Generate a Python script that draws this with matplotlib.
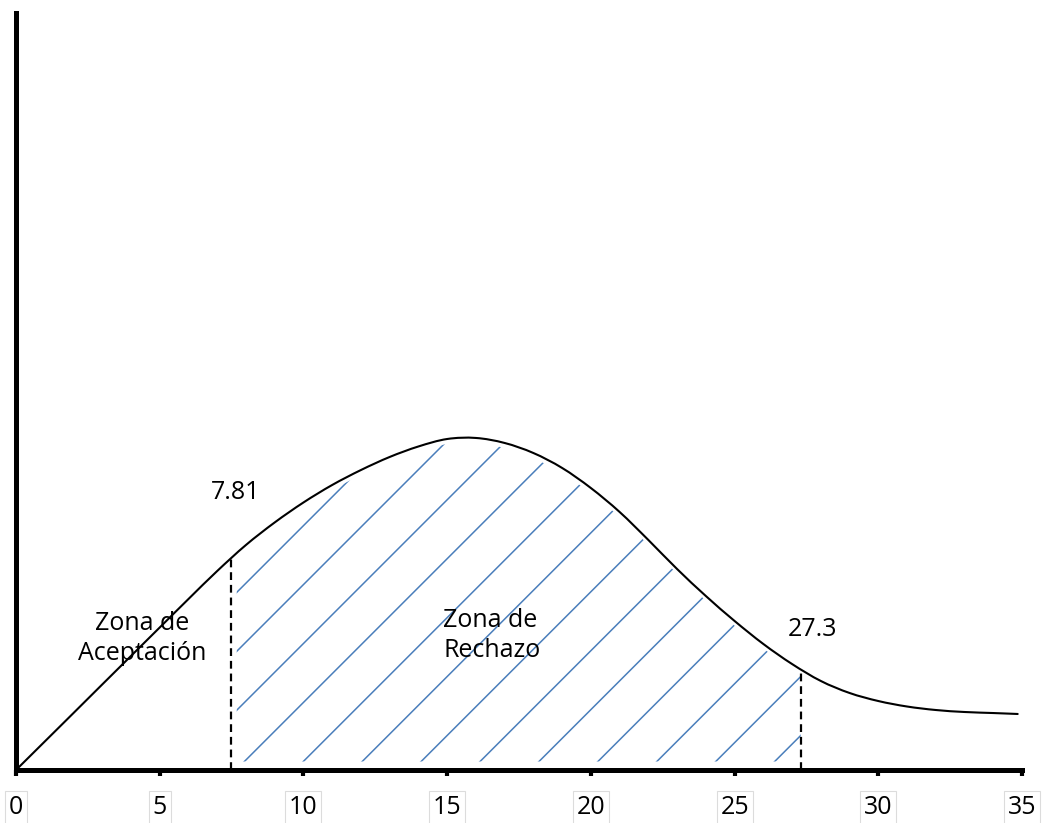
import numpy as np
import matplotlib
matplotlib.use("Agg")
import matplotlib.pyplot as plt
from matplotlib.patches import Polygon, PathPatch
from matplotlib.path import Path

# ---- data ----
curve_x = [0, 1, 2, 3, 4, 5, 6, 7, 8, 9, 10, 11, 12, 13, 14, 15, 16, 17, 18,
           19, 20, 21, 22, 23, 24, 25, 26, 27, 28, 29, 30, 31, 32, 33, 34, 34.85]
curve_y = [0.0, 0.00301, 0.00602, 0.00904, 0.01205, 0.01506, 0.01807, 0.02103,
           0.02378, 0.02616, 0.02827, 0.03012, 0.03170, 0.03308, 0.03419, 0.03498,
           0.03509, 0.03456, 0.03350, 0.03192, 0.02980, 0.02727, 0.02431, 0.02124,
           0.01839, 0.01575, 0.01332, 0.01120, 0.00941, 0.00814, 0.00729, 0.00671,
           0.00634, 0.00613, 0.00602, 0.00592]
crit_pos = [7.48, 27.3]
crit_labels = ["7.81", "27.3"]
xticks = [0, 5, 10, 15, 20, 25, 30, 35]
xtick_labels = ["0", "5", "10", "15", "20", "25", "30", "35"]
zone_labels = ["Zona de\nAceptación", "Zona de\nRechazo"]

FONT = "Open Sans"
W, H = 1049, 823
fig = plt.figure(figsize=(W / 100, H / 100), dpi=100)
ax = fig.add_axes([16 / W, 53 / H, 1006 / W, 757 / H])
ax.set_xlim(0, 35)
ax.set_ylim(0, 0.08)

# smooth curve through the points (Catmull-Rom rendered as cubic Beziers)
P = np.column_stack([curve_x, curve_y])
Pext = np.vstack([P[0], P, P[-1]])
verts = [tuple(P[0])]
codes = [Path.MOVETO]
for i in range(1, len(Pext) - 2):
    p0, p1, p2, p3 = Pext[i - 1], Pext[i], Pext[i + 1], Pext[i + 2]
    c1 = p1 + (p2 - p0) / 6.0
    c2 = p2 - (p3 - p1) / 6.0
    verts += [tuple(c1), tuple(c2), tuple(p2)]
    codes += [Path.CURVE4] * 3
ax.add_patch(PathPatch(Path(verts, codes), fill=False, edgecolor="black",
                       lw=1.5, capstyle="round", zorder=3))

# dashed critical lines
for cx in crit_pos:
    top = np.interp(cx, curve_x, curve_y)
    ax.plot([cx, cx], [0, top], color="black", lw=1.6,
            linestyle=(0, (3.5, 2.2)), zorder=2)

# hatch region (clip path)
xs = np.linspace(crit_pos[0] + 0.2, crit_pos[1], 200)
top = np.interp(xs, curve_x, curve_y) - 0.0005
bottom = np.full_like(xs, 0.0009)
rverts = np.vstack([np.column_stack([xs, bottom]),
                    np.column_stack([xs[::-1], top[::-1]])])
region = Polygon(rverts, closed=True, fill=False, edgecolor="none",
                 transform=ax.transData)
ax.add_patch(region)

bbox = ax.get_position()
px_per_x = bbox.width * W / 35
px_per_y = bbox.height * H / 0.08
slope = px_per_x / px_per_y
for x0 in np.arange(1.5, 26.6, 2.05):
    x1 = x0 + 0.08 / slope
    ln, = ax.plot([x0, x1], [0, 0.08], color="#4a7ebb", lw=1.1, zorder=1)
    ln.set_clip_path(region)

# texts
fs = 18
ax.text(7.65, 0.0293, crit_labels[0], fontsize=fs, family=FONT,
        ha="center", va="center")
ax.text(27.7, 0.0148, crit_labels[1], fontsize=fs, family=FONT,
        ha="center", va="center")
ax.text(4.38, 0.0139, zone_labels[0], fontsize=fs, family=FONT,
        ha="center", va="center", linespacing=1.25)
ax.text(14.86, 0.0142, zone_labels[1], fontsize=fs, family=FONT,
        ha="left", va="center", linespacing=1.25)

# axes styling
for s in ["top", "right"]:
    ax.spines[s].set_visible(False)
for s in ["left", "bottom"]:
    ax.spines[s].set_linewidth(3.6)
    ax.spines[s].set_capstyle("projecting")
ax.set_yticks([])
ax.set_xticks(xticks)
ax.set_xticklabels(xtick_labels, family=FONT, fontsize=fs)
ax.tick_params(axis="x", direction="out", length=4, width=3, pad=14)
for lab in ax.get_xticklabels():
    lab.set_bbox(dict(boxstyle="square,pad=0.15", facecolor="white",
                      edgecolor="#dcdcdc", linewidth=0.8))

fig.savefig("out.png", dpi=100)
